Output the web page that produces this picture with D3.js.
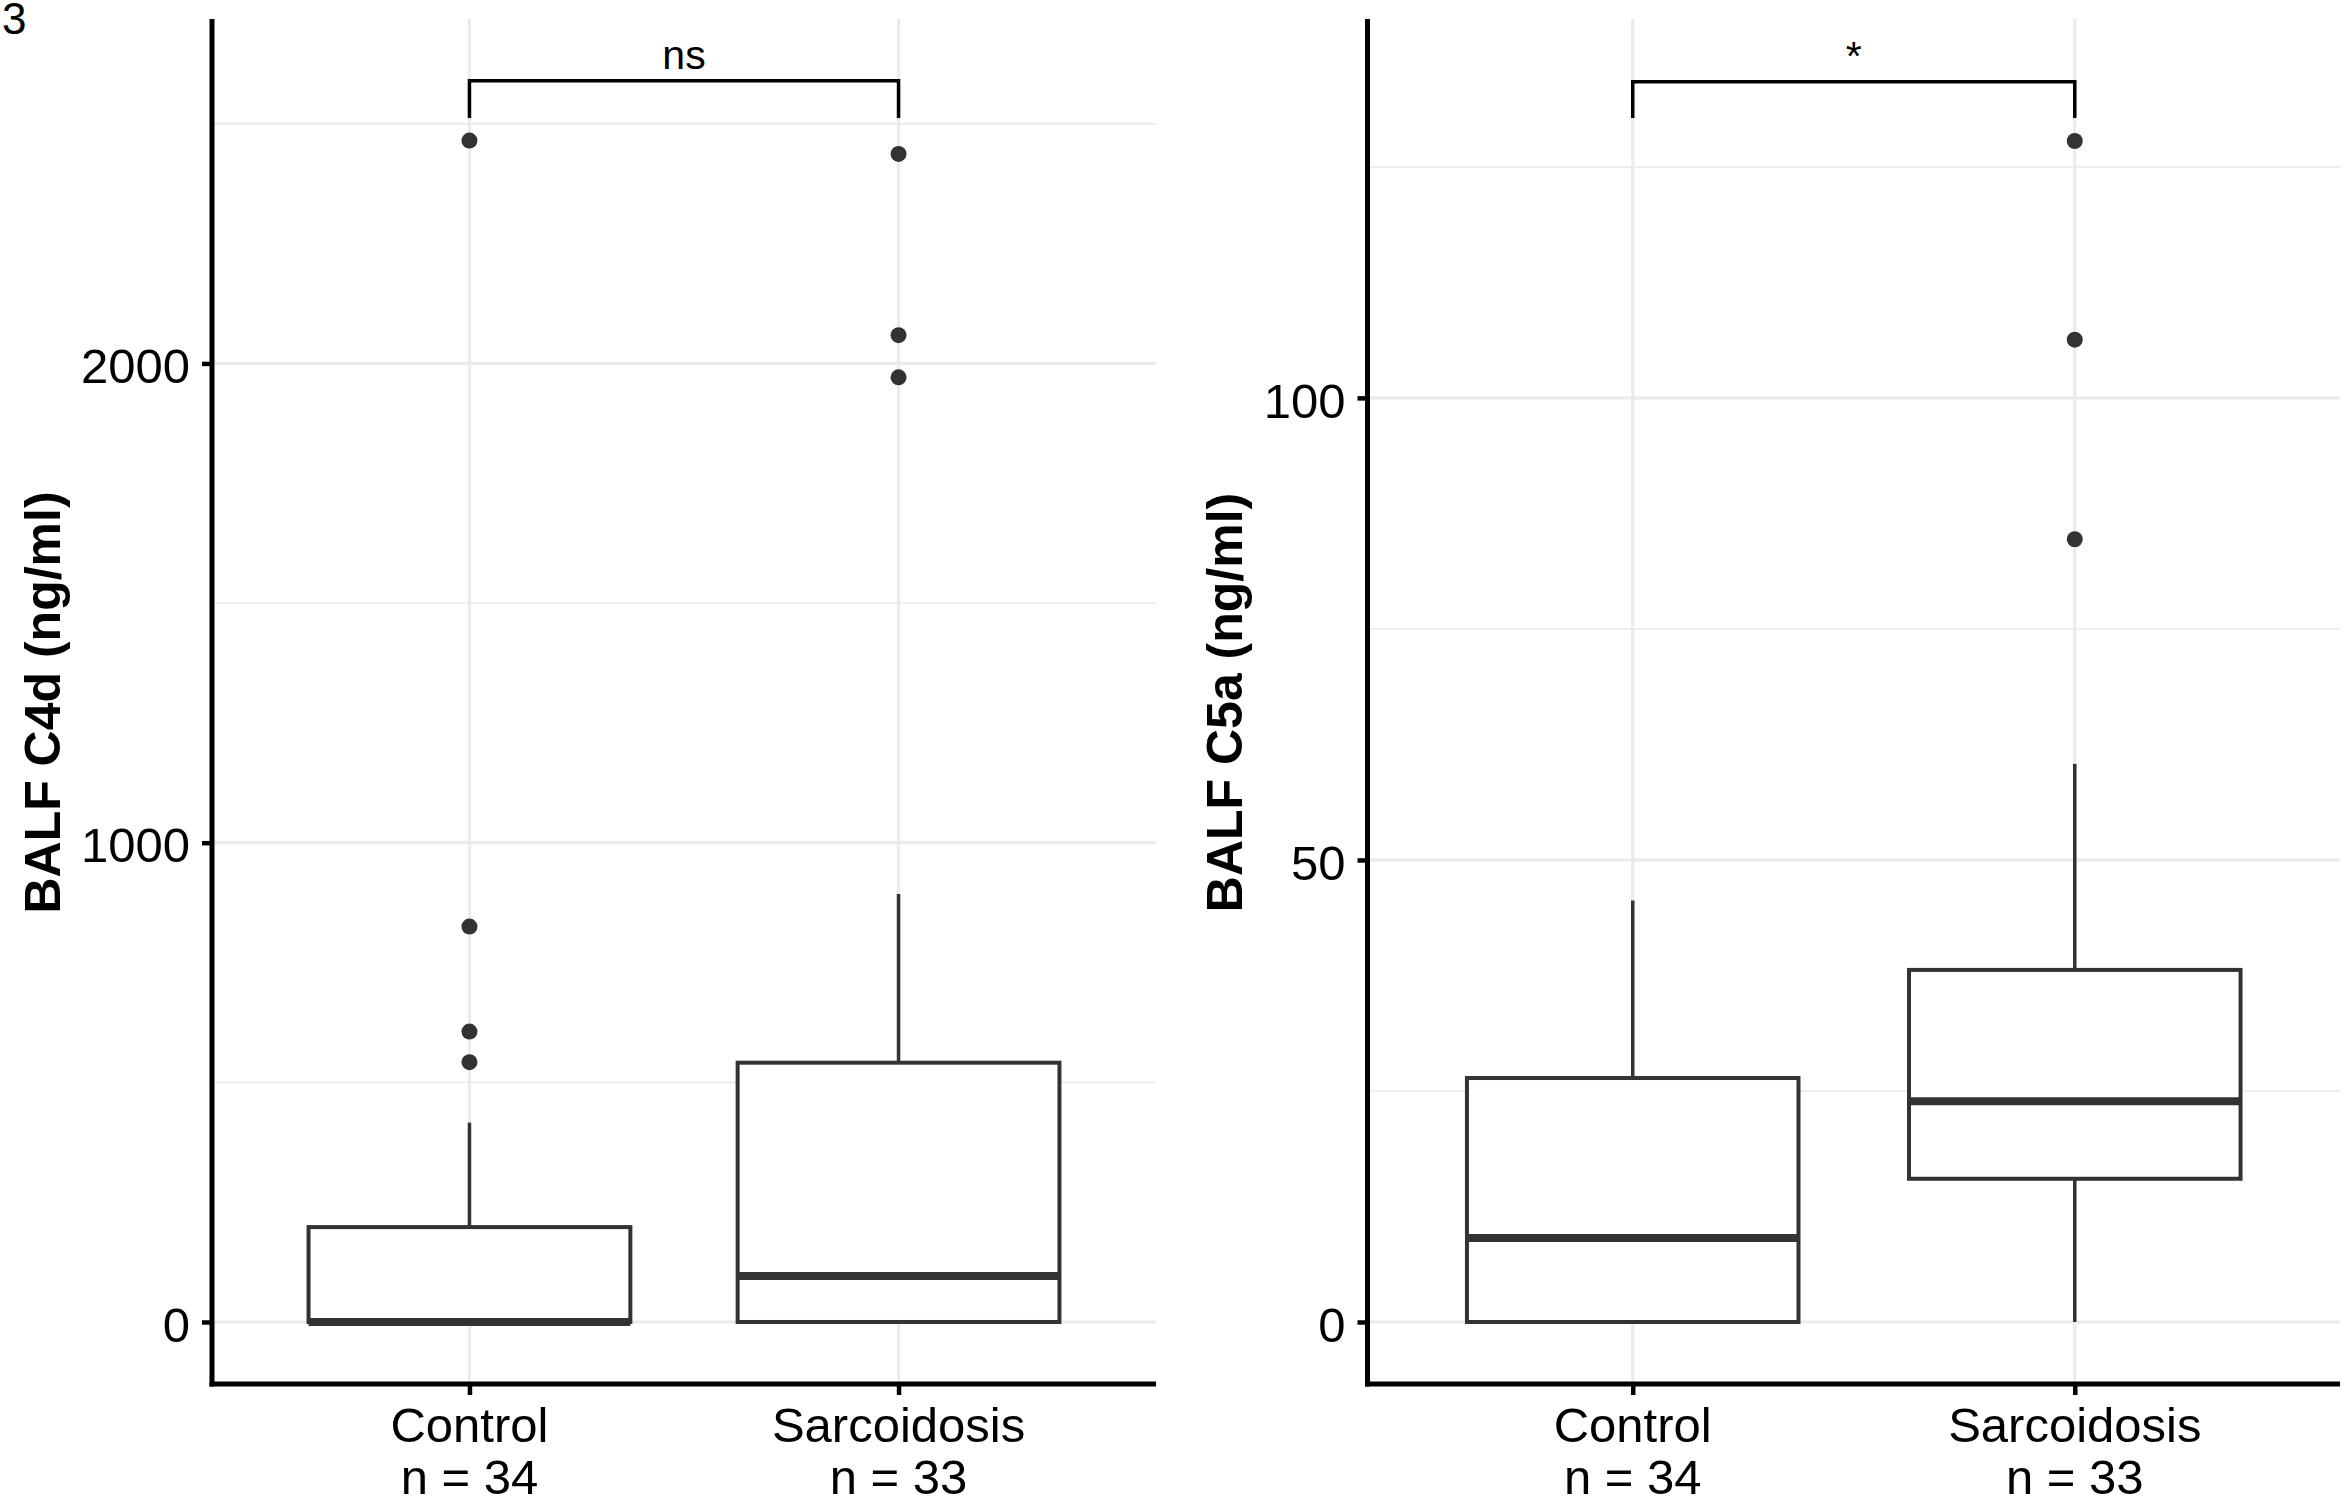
<!DOCTYPE html>
<html>
<head>
<meta charset="utf-8">
<script src="https://cdn.jsdelivr.net/npm/d3@7"></script>
<style>
  body { margin: 0; background: #fff; }
  svg { display: block; font-family: "Liberation Sans", Arial, sans-serif; }
</style>
</head>
<body>
<div id="chart-area"></div>
<script>
// groups and sample sizes
const groups = ["Control", "Sarcoidosis"];
const groupN = [34, 33];

// BALF C4d (ng/ml)
const c4dQ1 = [0, 0];
const c4dMedian = [0, 96];
const c4dQ3 = [198, 541];
const c4dLow = [0, 0];
const c4dHigh = [416, 893];
const c4dOutliers = [[2465, 825, 606, 542], [2437, 2059, 1971]];
const c4dMajor = [0, 1000, 2000];
const c4dMinor = [500, 1500, 2500];

// BALF C5a (ng/ml)
const c5aQ1 = [0, 15.5];
const c5aMedian = [9.1, 23.9];
const c5aQ3 = [26.4, 38.1];
const c5aLow = [0, 0];
const c5aHigh = [45.6, 60.4];
const c5aOutliers = [[], [127.8, 106.3, 84.7]];
const c5aMajor = [0, 50, 100];
const c5aMinor = [25, 75, 125];

// significance labels (bracket level, tick bottom)
const sigLabels = ["ns", "*"];
const c4dBracket = [2590, 2512];
const c5aBracket = [134.2, 130.3];

const W = 2344, H = 1500;
const plotTop = 19, plotBottom = 1384;

const svg = d3.select("#chart-area")
    .append("svg")
    .attr("width", W)
    .attr("height", H);

svg.append("rect").attr("width", W).attr("height", H).attr("fill", "#fff");

svg.append("text")
    .attr("x", 2)
    .attr("y", 34)
    .attr("font-size", "44px")
    .attr("fill", "#000")
    .text("3");

function panel(opts) {
    const x = d3.scalePoint().domain(groups).range([opts.left, opts.left + opts.width]).padding(0.6);
    const y = d3.scaleLinear().domain(opts.domain).range([plotBottom, plotTop]);
    const bw = x.step() * 0.75;
    const g = svg.append("g");

    // grid
    g.selectAll(".minor").data(opts.minor).enter().append("line")
        .attr("x1", opts.left).attr("x2", opts.left + opts.width)
        .attr("y1", d => y(d)).attr("y2", d => y(d))
        .attr("stroke", "#ebebeb").attr("stroke-width", 1.8);
    g.selectAll(".major").data(opts.major).enter().append("line")
        .attr("x1", opts.left).attr("x2", opts.left + opts.width)
        .attr("y1", d => y(d)).attr("y2", d => y(d))
        .attr("stroke", "#ebebeb").attr("stroke-width", 3.2);
    g.selectAll(".vgrid").data(groups).enter().append("line")
        .attr("x1", d => x(d)).attr("x2", d => x(d))
        .attr("y1", plotTop).attr("y2", plotBottom)
        .attr("stroke", "#ebebeb").attr("stroke-width", 3.2);

    const stats = groups.map((grp, i) => ({
        grp, q1: opts.q1[i], med: opts.med[i], q3: opts.q3[i],
        lo: opts.lo[i], hi: opts.hi[i], out: opts.out[i]
    }));

    const box = g.selectAll(".box").data(stats).enter().append("g");
    box.append("line")
        .attr("x1", d => x(d.grp)).attr("x2", d => x(d.grp))
        .attr("y1", d => y(d.q3)).attr("y2", d => y(d.hi))
        .attr("stroke", "#333").attr("stroke-width", 3.5);
    box.append("line")
        .attr("x1", d => x(d.grp)).attr("x2", d => x(d.grp))
        .attr("y1", d => y(d.q1)).attr("y2", d => y(d.lo))
        .attr("stroke", "#333").attr("stroke-width", 3.5);
    box.append("rect")
        .attr("x", d => x(d.grp) - bw / 2)
        .attr("width", bw)
        .attr("y", d => y(d.q3))
        .attr("height", d => y(d.q1) - y(d.q3))
        .attr("fill", "#fff")
        .attr("stroke", "#333")
        .attr("stroke-width", 4);
    box.append("line")
        .attr("x1", d => x(d.grp) - bw / 2).attr("x2", d => x(d.grp) + bw / 2)
        .attr("y1", d => y(d.med)).attr("y2", d => y(d.med))
        .attr("stroke", "#333").attr("stroke-width", 8);

    const pts = stats.flatMap(d => d.out.map(v => ({ grp: d.grp, v })));
    g.selectAll(".pt").data(pts).enter().append("circle")
        .attr("cx", d => x(d.grp))
        .attr("cy", d => y(d.v))
        .attr("r", 8)
        .attr("fill", "#333");

    // axes
    const yAxis = g.append("g")
        .attr("transform", `translate(${opts.left},0)`)
        .call(d3.axisLeft(y).tickValues(opts.major).tickFormat(d3.format("d"))
            .tickSize(10).tickSizeOuter(0).tickPadding(12));
    yAxis.select(".domain").remove();
    yAxis.selectAll(".tick line").attr("stroke", "#000").attr("stroke-width", 4.5);
    yAxis.selectAll(".tick text")
        .attr("font-size", "49px").attr("fill", "#000")
        .attr("font-family", "'Liberation Sans', Arial, sans-serif")
        .attr("dy", "0.39em");

    const xAxis = g.append("g")
        .attr("transform", `translate(0,${plotBottom})`)
        .call(d3.axisBottom(x).tickSize(11).tickSizeOuter(0).tickFormat(""));
    xAxis.select(".domain").remove();
    xAxis.selectAll(".tick line").attr("stroke", "#000").attr("stroke-width", 4.5);

    g.selectAll(".xlab").data(groups).enter().append("text")
        .attr("x", d => x(d))
        .attr("y", plotBottom + 58)
        .attr("text-anchor", "middle")
        .attr("font-size", "49px")
        .attr("fill", "#000")
        .each(function (d, i) {
            d3.select(this).append("tspan").attr("x", x(d)).text(d);
            d3.select(this).append("tspan").attr("x", x(d)).attr("dy", 52).text(`n = ${groupN[i]}`);
        });

    // axis lines
    g.append("line")
        .attr("x1", opts.left).attr("x2", opts.left)
        .attr("y1", plotTop).attr("y2", plotBottom + 2.5)
        .attr("stroke", "#000").attr("stroke-width", 5);
    g.append("line")
        .attr("x1", opts.left - 2.5).attr("x2", opts.left + opts.width)
        .attr("y1", plotBottom).attr("y2", plotBottom)
        .attr("stroke", "#000").attr("stroke-width", 5);

    // y title
    g.append("text")
        .attr("transform", `translate(${opts.titleX},${(plotTop + plotBottom) / 2 + 1}) rotate(-90)`)
        .attr("text-anchor", "middle")
        .attr("font-size", "50px")
        .attr("font-weight", "bold")
        .attr("fill", "#000")
        .text(opts.title);

    // significance bracket
    const [bTop, bBottom] = opts.bracket;
    const bx1 = x(groups[0]), bx2 = x(groups[1]);
    g.append("path")
        .attr("d", `M${bx1},${y(bBottom)}V${y(bTop)}H${bx2}V${y(bBottom)}`)
        .attr("fill", "none")
        .attr("stroke", "#000")
        .attr("stroke-width", 3.5);
    g.append("text")
        .attr("x", (bx1 + bx2) / 2)
        .attr("y", y(bTop) - 12)
        .attr("text-anchor", "middle")
        .attr("font-size", "41px")
        .attr("fill", "#000")
        .text(opts.sig);
}

panel({
    left: 212, width: 944, domain: [-129.4, 2718.6],
    q1: c4dQ1, med: c4dMedian, q3: c4dQ3, lo: c4dLow, hi: c4dHigh, out: c4dOutliers,
    major: c4dMajor, minor: c4dMinor,
    title: "BALF C4d (ng/ml)", titleX: 59.5,
    bracket: c4dBracket, sig: sigLabels[0]
});

panel({
    left: 1367.5, width: 972.5, domain: [-6.71, 141.0],
    q1: c5aQ1, med: c5aMedian, q3: c5aQ3, lo: c5aLow, hi: c5aHigh, out: c5aOutliers,
    major: c5aMajor, minor: c5aMinor,
    title: "BALF C5a (ng/ml)", titleX: 1241.7,
    bracket: c5aBracket, sig: sigLabels[1]
});
</script>
</body>
</html>
